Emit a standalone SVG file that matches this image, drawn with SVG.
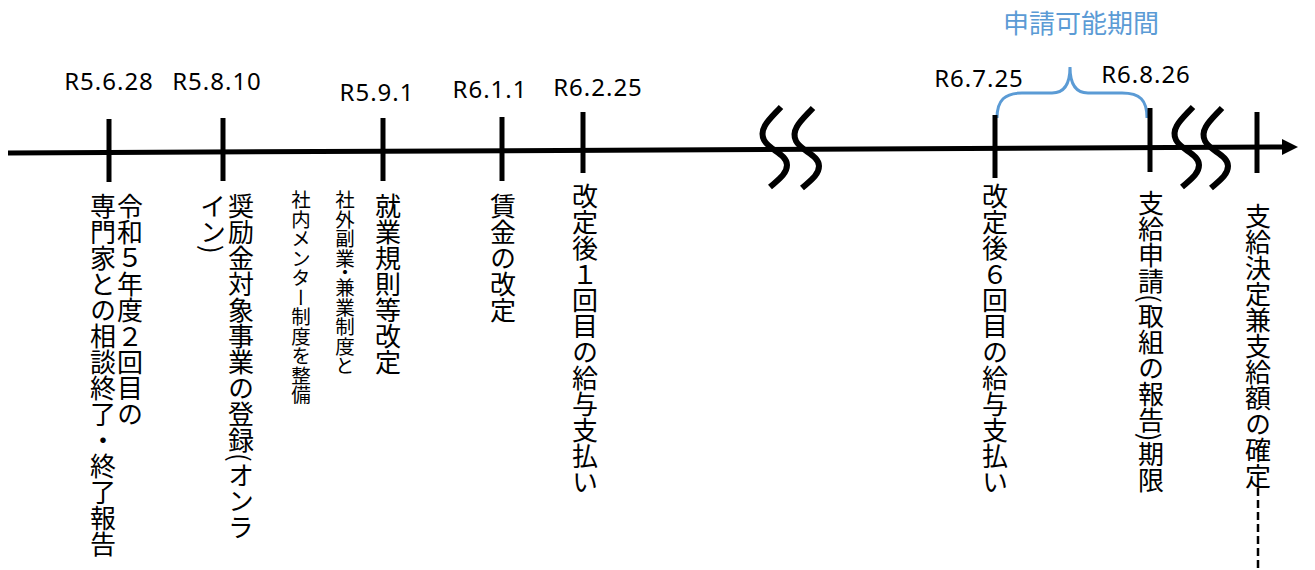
<svg xmlns="http://www.w3.org/2000/svg" width="1315" height="570" viewBox="0 0 1315 570">
<style>
.tick{stroke:#000;stroke-width:5;fill:none}
.brk{stroke:#000;stroke-width:6;fill:none;stroke-linecap:butt}
.date{font-family:"Noto Sans","Noto Sans CJK JP",sans-serif;font-size:24px;letter-spacing:1px;fill:#000;text-anchor:middle}
.v{font-family:"Noto Sans CJK JP",sans-serif;font-size:26px;writing-mode:vertical-rl;fill:#000}
.vs{font-size:19.5px}
.blue{font-family:"Noto Sans CJK JP",sans-serif;font-size:26px;fill:#5B9BD5;text-anchor:middle}
</style>
<rect width="1315" height="570" fill="#fff"/>
<g id="connectors">
  <line x1="8" y1="153" x2="1285" y2="147" stroke="#000" stroke-width="5"/>
  <polygon points="1282,139 1298,147 1282,155" fill="#000"/>
  <path class="brk" d="M781,107 C771,118 758,128 764,140 C769,150 787,154 787,165 C787,174 778,180 770,187"/>
  <path class="brk" d="M813,108 C803,119 790,129 796,141 C801,151 819,155 819,166 C819,175 810,181 802,188"/>
  <path class="brk" d="M1193,107 C1183,118 1170,128 1176,140 C1181,150 1199,154 1199,165 C1199,174 1190,180 1182,187"/>
  <path class="brk" d="M1222,108 C1212,119 1199,129 1205,141 C1210,151 1228,155 1228,166 C1228,175 1219,181 1211,188"/>
  <path d="M997,118 C997,100 1005,93 1022,93 L1052,93 C1064,93 1070,85 1070,67 C1070,85 1076,93 1088,93 L1122,93 C1140,93 1147,100 1147,118" stroke="#5B9BD5" stroke-width="3" fill="none"/>
  <line x1="1258" y1="488" x2="1258" y2="570" stroke="#000" stroke-width="2.5" stroke-dasharray="8,4"/>
</g>
<g id="n1">
  <line class="tick" x1="109" y1="119" x2="109" y2="182"/>
  <text class="date" x="109" y="90">R5.6.28</text>
  <text class="v" x="130" y="193">令和５年度２回目の</text>
  <text class="v" x="103" y="193">専門家との相談終了・終了報告</text>
</g>
<g id="n2">
  <line class="tick" x1="223" y1="118" x2="223" y2="181"/>
  <text class="date" x="217" y="90">R5.8.10</text>
  <text class="v" x="241" y="193">奨励金対象事業の登録(オンラ</text>
  <text class="v" x="213" y="193">イン)</text>
</g>
<g id="n3">
  <line class="tick" x1="383" y1="118" x2="383" y2="181"/>
  <text class="date" x="377" y="101">R5.9.1</text>
  <text class="v vs" x="301" y="190">社内メンター制度を整備</text>
  <text class="v vs" x="345" y="190">社外副業</text>
  <text class="v vs" x="345" y="263">・</text>
  <text class="v vs" x="345" y="278">兼業制度と</text>
  <text class="v" x="388" y="193">就業規則等改定</text>
</g>
<g id="n4">
  <line class="tick" x1="502" y1="117" x2="502" y2="181"/>
  <text class="date" x="490" y="98">R6.1.1</text>
  <text class="v" x="503" y="193">賃金の改定</text>
</g>
<g id="n5">
  <line class="tick" x1="583" y1="112" x2="583" y2="173"/>
  <text class="date" x="598" y="96">R6.2.25</text>
  <text class="v" x="585" y="183">改定後１回目の給与支払い</text>
</g>
<g id="n6">
  <line class="tick" x1="995" y1="115" x2="995" y2="178"/>
  <text class="date" x="979" y="87">R6.7.25</text>
  <text class="v" x="995" y="183">改定後６回目の給与支払い</text>
</g>
<g id="n7">
  <line class="tick" x1="1150" y1="108" x2="1150" y2="172"/>
  <text class="date" x="1146" y="83">R6.8.26</text>
  <text class="v" x="1151" y="190">支給申請(取組の報告)期限</text>
</g>
<g id="n8">
  <line class="tick" x1="1257" y1="112" x2="1257" y2="173"/>
  <text class="v" x="1258" y="203">支給決定兼支給額の確定</text>
</g>
<g id="period">
  <text class="blue" x="1081" y="33">申請可能期間</text>
</g>
</svg>
